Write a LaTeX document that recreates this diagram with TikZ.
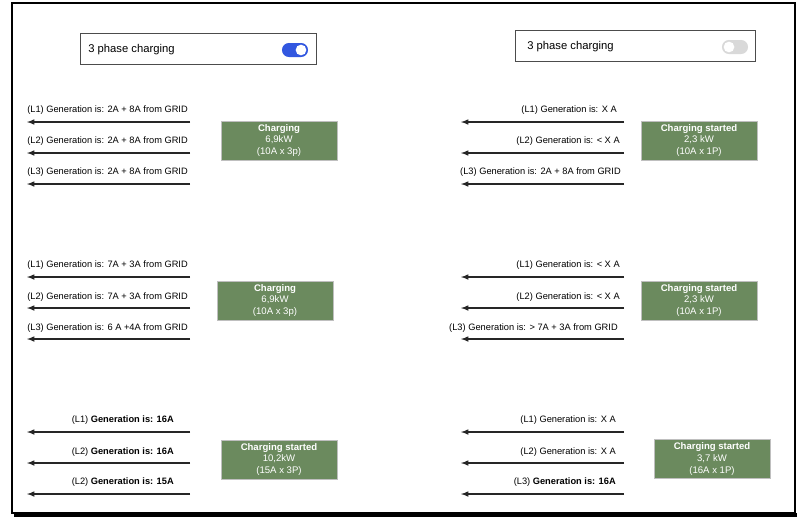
\documentclass[tikz,border=0pt]{standalone}
\usepackage{fontspec}
\setmainfont{Liberation Sans}
\definecolor{boxgreen}{HTML}{6B8A5E}
\definecolor{toggleblue}{HTML}{3257E0}
\begin{document}
\begin{tikzpicture}[
        x=0.025cm,
        y=-0.025cm,
        font=\fontsize{6.6}{8}\selectfont
    ]
    \tikzset{
        statebox/.style = {draw=black!25, fill=boxgreen, text=white, align=center,
            minimum width=2.9cm, minimum height=0.98cm, inner sep=0pt,
            font=\fontsize{6.8}{8.4}\selectfont},
        togglebox/.style = {draw=black!70, fill=white, minimum width=#1, minimum height=0.78cm},
        phaselabel/.style = {inner sep=0pt},
        genarrow/.style = {-latex, thick, black!85},
    }
    \useasboundingbox (0,0) rectangle (800,521);
    \fill[white] (0,0) rectangle (800,521);
    \draw[line width=2pt] (12,3) rectangle (795,513);
    \fill[black] (14,513) rectangle (797,517);
    %
    % toggles
    \node[togglebox=5.9cm] at (198,48.5) (tga) {};
    \node[phaselabel, anchor=west, font=\fontsize{8}{9}\selectfont] at (88,50) (tta) {3 phase charging};
    \fill[toggleblue] (289,50) circle (5pt) (301,50) circle (5pt) (289,43) rectangle (301,57);
    \fill[white] (301,50) circle (3.8pt);
    \node[togglebox=6cm] at (635,46) (tgb) {};
    \node[phaselabel, anchor=west, font=\fontsize{8}{9}\selectfont] at (527,47) (ttb) {3 phase charging};
    \fill[black!15] (729,47) circle (5pt) (741,47) circle (5pt) (729,40) rectangle (741,54);
    \fill[white] (729,47) circle (3.8pt);
    %
    % status boxes
    \node[statebox] at (279,140.5) (sa) {\textbf{Charging}\\6,9kW\\(10A x 3p)};
    \node[statebox] at (699,140.5) (sb) {\textbf{Charging started}\\2,3 kW\\(10A x 1P)};
    \node[statebox] at (275,300.5) (sc) {\textbf{Charging}\\6,9kW\\(10A x 3p)};
    \node[statebox] at (699,300.5) (sd) {\textbf{Charging started}\\2,3 kW\\(10A x 1P)};
    \node[statebox] at (279,459.5) (se) {\textbf{Charging started}\\10,2kW\\(15A x 3P)};
    \node[statebox] at (712,459) (sf) {\textbf{Charging started}\\3,7 kW\\(16A x 1P)};
    %
    % left column arrows
    \foreach \name/\yy in {a1/122, a2/153, a3/184, c1/277, c2/308, c3/339, e1/432, e2/463, e3/494} {
        \coordinate (\name s) at (190,\yy);
        \coordinate (\name t) at (27,\yy);
        \draw[genarrow] (\name s) -- (\name t);
    }
    % right column arrows
    \foreach \name/\yy in {b1/122, b2/153, b3/184, d1/277, d2/308, d3/339, f1/432, f2/463, f3/494} {
        \coordinate (\name s) at (624,\yy);
        \coordinate (\name t) at (461,\yy);
        \draw[genarrow] (\name s) -- (\name t);
    }
    %
    \node[phaselabel, anchor=west] at (27,110) (la1) {(L1) Generation is: 2A + 8A from GRID};
    \node[phaselabel, anchor=west] at (27,141) (la2) {(L2) Generation is: 2A + 8A from GRID};
    \node[phaselabel, anchor=west] at (27,172) (la3) {(L3) Generation is: 2A + 8A from GRID};
    \node[phaselabel, anchor=west] at (27,265) (lc1) {(L1) Generation is: 7A + 3A from GRID};
    \node[phaselabel, anchor=west] at (27,297) (lc2) {(L2) Generation is: 7A + 3A from GRID};
    \node[phaselabel, anchor=west] at (27,328) (lc3) {(L3) Generation is: 6 A +4A from GRID};
    \node[phaselabel, anchor=east] at (174,420) (le1) {(L1) \textbf{Generation is: 16A}};
    \node[phaselabel, anchor=east] at (174,452) (le2) {(L2) \textbf{Generation is: 16A}};
    \node[phaselabel, anchor=east] at (174,482) (le3) {(L2) \textbf{Generation is: 15A}};
    %
    \node[phaselabel, anchor=east] at (617,110) (lb1) {(L1) Generation is: X A};
    \node[phaselabel, anchor=east] at (620,141) (lb2) {(L2) Generation is: < X A};
    \node[phaselabel, anchor=east] at (621,172) (lb3) {(L3) Generation is: 2A + 8A from GRID};
    \node[phaselabel, anchor=east] at (620,265) (ld1) {(L1) Generation is: < X A};
    \node[phaselabel, anchor=east] at (620,297) (ld2) {(L2) Generation is: < X A};
    \node[phaselabel, anchor=east] at (618,328) (ld3) {(L3) Generation is: > 7A + 3A from GRID};
    \node[phaselabel, anchor=east] at (616,420) (lf1) {(L1) Generation is: X A};
    \node[phaselabel, anchor=east] at (616,452) (lf2) {(L2) Generation is: X A};
    \node[phaselabel, anchor=east] at (616,482) (lf3) {(L3) \textbf{Generation is: 16A}};
\end{tikzpicture}
\end{document}
